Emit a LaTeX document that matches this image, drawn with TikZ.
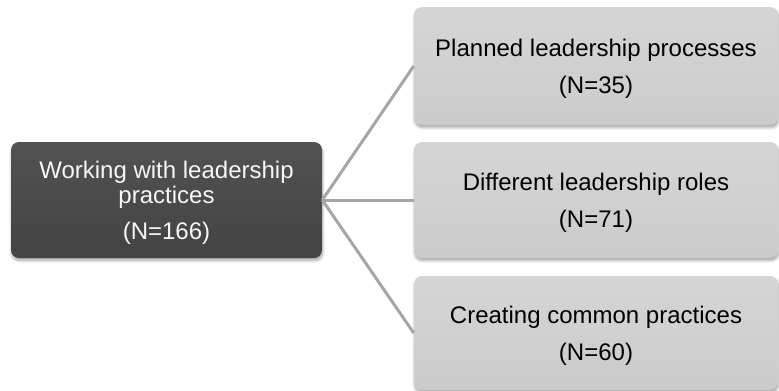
\documentclass[tikz,border=0pt]{standalone}
\usepackage{fontspec}
\setmainfont{Liberation Sans}
\usetikzlibrary{shadows.blur}
\definecolor{darkbox}{HTML}{434343}
\definecolor{darkboxtop}{HTML}{525252}
\definecolor{lightbox}{HTML}{CBCBCB}
\definecolor{lightboxtop}{HTML}{D5D5D5}
\definecolor{linkgray}{HTML}{A6A6A6}
\definecolor{textwhite}{HTML}{F6F6F6}
\newcommand{\topgap}{\rule{0pt}{17.5pt}}
\tikzset{
  basebox/.style={rectangle, rounded corners=6pt, inner sep=0pt, align=center,
    font=\fontsize{18}{19}\selectfont,
    blur shadow={shadow xshift=0.5pt, shadow yshift=-2pt, shadow blur radius=2pt, shadow blur steps=6, shadow opacity=35}},
  rootbox/.style={basebox, top color=darkboxtop, bottom color=darkbox, text=textwhite,
    minimum width=233.25pt, minimum height=87pt},
  leafbox/.style={basebox, top color=lightboxtop, bottom color=lightbox, text=black,
    minimum width=273pt, minimum height=#1},
  link/.style={draw=linkgray, line width=2.25pt}
}
\begin{document}
\begin{tikzpicture}[x=0.75pt,y=-0.75pt]
\useasboundingbox (0,0) rectangle (779,390);
\clip (0,0) rectangle (779,390);
\node[rootbox] (root) at (166.5,200) {\topgap Working with leadership\\practices\\[8pt](N=166)};
\node[leafbox=88.5pt] (plan) at (596,66) {\topgap Planned leadership processes\\[9pt](N=35)};
\node[leafbox=87pt] (roles) at (596,200) {\topgap Different leadership roles\\[9pt](N=71)};
\node[leafbox=85.5pt] (common) at (596,333) {\topgap Creating common practices\\[9pt](N=60)};
\draw[link] (root.east) -- (plan.west);
\draw[link] (root.east) -- (roles.west);
\draw[link] (root.east) -- (common.west);
\end{tikzpicture}
\end{document}
